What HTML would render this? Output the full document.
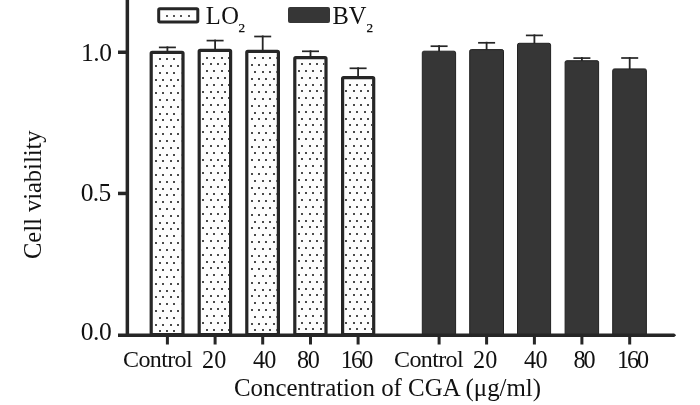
<!DOCTYPE html>
<html><head><meta charset="utf-8"><style>
html,body{margin:0;padding:0;background:#fff;}
body{width:700px;height:405px;overflow:hidden;}
svg{display:block;will-change:transform;}
text{font-family:"Liberation Serif",serif;fill:#111111;}
</style></head><body>
<svg width="700" height="405" viewBox="0 0 700 405">
<defs>

</defs>
<rect width="700" height="405" fill="#fff"/>

<rect x="166.50" y="46.40" width="1.8" height="5.30" fill="#262626"/>
<rect x="158.90" y="46.55" width="17" height="1.7" fill="#262626"/>
<rect x="214.20" y="39.60" width="1.8" height="10.10" fill="#262626"/>
<rect x="206.60" y="39.75" width="17" height="1.7" fill="#262626"/>
<rect x="261.80" y="35.50" width="1.8" height="15.30" fill="#262626"/>
<rect x="254.20" y="35.65" width="17" height="1.7" fill="#262626"/>
<rect x="309.60" y="50.30" width="1.8" height="6.80" fill="#262626"/>
<rect x="302.00" y="50.45" width="17" height="1.7" fill="#262626"/>
<rect x="357.20" y="67.30" width="1.8" height="9.80" fill="#262626"/>
<rect x="349.60" y="67.45" width="17" height="1.7" fill="#262626"/>
<rect x="438.20" y="45.20" width="1.8" height="6.50" fill="#262626"/>
<rect x="430.60" y="45.35" width="17" height="1.7" fill="#262626"/>
<rect x="485.70" y="41.80" width="1.8" height="8.30" fill="#262626"/>
<rect x="478.10" y="41.95" width="17" height="1.7" fill="#262626"/>
<rect x="533.50" y="34.40" width="1.8" height="9.40" fill="#262626"/>
<rect x="525.90" y="34.55" width="17" height="1.7" fill="#262626"/>
<rect x="581.00" y="57.10" width="1.8" height="4.10" fill="#262626"/>
<rect x="573.40" y="57.25" width="17" height="1.7" fill="#262626"/>
<rect x="628.80" y="57.00" width="1.8" height="12.40" fill="#262626"/>
<rect x="621.20" y="57.15" width="17" height="1.7" fill="#262626"/>
<rect x="151.20" y="52.30" width="31.80" height="282.20" rx="1" fill="#fdfdfd" stroke="#262626" stroke-width="3.2"/>
<g clip-path="url(#c0)" fill="#4a4a4a"><rect x="159" y="58" width="2" height="2"/><rect x="166" y="58" width="2" height="2"/><rect x="173" y="58" width="2" height="2"/><rect x="181" y="58" width="2" height="2"/><rect x="155" y="65" width="2" height="2"/><rect x="162" y="65" width="2" height="2"/><rect x="170" y="65" width="2" height="2"/><rect x="177" y="65" width="2" height="2"/><rect x="159" y="72" width="2" height="2"/><rect x="166" y="72" width="2" height="2"/><rect x="173" y="72" width="2" height="2"/><rect x="181" y="72" width="2" height="2"/><rect x="155" y="79" width="2" height="2"/><rect x="162" y="79" width="2" height="2"/><rect x="170" y="79" width="2" height="2"/><rect x="177" y="79" width="2" height="2"/><rect x="159" y="85" width="2" height="2"/><rect x="166" y="85" width="2" height="2"/><rect x="173" y="85" width="2" height="2"/><rect x="181" y="85" width="2" height="2"/><rect x="155" y="92" width="2" height="2"/><rect x="162" y="92" width="2" height="2"/><rect x="170" y="92" width="2" height="2"/><rect x="177" y="92" width="2" height="2"/><rect x="159" y="99" width="2" height="2"/><rect x="166" y="99" width="2" height="2"/><rect x="173" y="99" width="2" height="2"/><rect x="181" y="99" width="2" height="2"/><rect x="155" y="106" width="2" height="2"/><rect x="162" y="106" width="2" height="2"/><rect x="170" y="106" width="2" height="2"/><rect x="177" y="106" width="2" height="2"/><rect x="159" y="113" width="2" height="2"/><rect x="166" y="113" width="2" height="2"/><rect x="173" y="113" width="2" height="2"/><rect x="181" y="113" width="2" height="2"/><rect x="155" y="119" width="2" height="2"/><rect x="162" y="119" width="2" height="2"/><rect x="170" y="119" width="2" height="2"/><rect x="177" y="119" width="2" height="2"/><rect x="159" y="126" width="2" height="2"/><rect x="166" y="126" width="2" height="2"/><rect x="173" y="126" width="2" height="2"/><rect x="181" y="126" width="2" height="2"/><rect x="155" y="133" width="2" height="2"/><rect x="162" y="133" width="2" height="2"/><rect x="170" y="133" width="2" height="2"/><rect x="177" y="133" width="2" height="2"/><rect x="159" y="140" width="2" height="2"/><rect x="166" y="140" width="2" height="2"/><rect x="173" y="140" width="2" height="2"/><rect x="181" y="140" width="2" height="2"/><rect x="155" y="147" width="2" height="2"/><rect x="162" y="147" width="2" height="2"/><rect x="170" y="147" width="2" height="2"/><rect x="177" y="147" width="2" height="2"/><rect x="159" y="154" width="2" height="2"/><rect x="166" y="154" width="2" height="2"/><rect x="173" y="154" width="2" height="2"/><rect x="181" y="154" width="2" height="2"/><rect x="155" y="160" width="2" height="2"/><rect x="162" y="160" width="2" height="2"/><rect x="170" y="160" width="2" height="2"/><rect x="177" y="160" width="2" height="2"/><rect x="159" y="167" width="2" height="2"/><rect x="166" y="167" width="2" height="2"/><rect x="173" y="167" width="2" height="2"/><rect x="181" y="167" width="2" height="2"/><rect x="155" y="174" width="2" height="2"/><rect x="162" y="174" width="2" height="2"/><rect x="170" y="174" width="2" height="2"/><rect x="177" y="174" width="2" height="2"/><rect x="159" y="181" width="2" height="2"/><rect x="166" y="181" width="2" height="2"/><rect x="173" y="181" width="2" height="2"/><rect x="181" y="181" width="2" height="2"/><rect x="155" y="188" width="2" height="2"/><rect x="162" y="188" width="2" height="2"/><rect x="170" y="188" width="2" height="2"/><rect x="177" y="188" width="2" height="2"/><rect x="159" y="194" width="2" height="2"/><rect x="166" y="194" width="2" height="2"/><rect x="173" y="194" width="2" height="2"/><rect x="181" y="194" width="2" height="2"/><rect x="155" y="201" width="2" height="2"/><rect x="162" y="201" width="2" height="2"/><rect x="170" y="201" width="2" height="2"/><rect x="177" y="201" width="2" height="2"/><rect x="159" y="208" width="2" height="2"/><rect x="166" y="208" width="2" height="2"/><rect x="173" y="208" width="2" height="2"/><rect x="181" y="208" width="2" height="2"/><rect x="155" y="215" width="2" height="2"/><rect x="162" y="215" width="2" height="2"/><rect x="170" y="215" width="2" height="2"/><rect x="177" y="215" width="2" height="2"/><rect x="159" y="222" width="2" height="2"/><rect x="166" y="222" width="2" height="2"/><rect x="173" y="222" width="2" height="2"/><rect x="181" y="222" width="2" height="2"/><rect x="155" y="228" width="2" height="2"/><rect x="162" y="228" width="2" height="2"/><rect x="170" y="228" width="2" height="2"/><rect x="177" y="228" width="2" height="2"/><rect x="159" y="235" width="2" height="2"/><rect x="166" y="235" width="2" height="2"/><rect x="173" y="235" width="2" height="2"/><rect x="181" y="235" width="2" height="2"/><rect x="155" y="242" width="2" height="2"/><rect x="162" y="242" width="2" height="2"/><rect x="170" y="242" width="2" height="2"/><rect x="177" y="242" width="2" height="2"/><rect x="159" y="249" width="2" height="2"/><rect x="166" y="249" width="2" height="2"/><rect x="173" y="249" width="2" height="2"/><rect x="181" y="249" width="2" height="2"/><rect x="155" y="256" width="2" height="2"/><rect x="162" y="256" width="2" height="2"/><rect x="170" y="256" width="2" height="2"/><rect x="177" y="256" width="2" height="2"/><rect x="159" y="262" width="2" height="2"/><rect x="166" y="262" width="2" height="2"/><rect x="173" y="262" width="2" height="2"/><rect x="181" y="262" width="2" height="2"/><rect x="155" y="269" width="2" height="2"/><rect x="162" y="269" width="2" height="2"/><rect x="170" y="269" width="2" height="2"/><rect x="177" y="269" width="2" height="2"/><rect x="159" y="276" width="2" height="2"/><rect x="166" y="276" width="2" height="2"/><rect x="173" y="276" width="2" height="2"/><rect x="181" y="276" width="2" height="2"/><rect x="155" y="283" width="2" height="2"/><rect x="162" y="283" width="2" height="2"/><rect x="170" y="283" width="2" height="2"/><rect x="177" y="283" width="2" height="2"/><rect x="159" y="290" width="2" height="2"/><rect x="166" y="290" width="2" height="2"/><rect x="173" y="290" width="2" height="2"/><rect x="181" y="290" width="2" height="2"/><rect x="155" y="296" width="2" height="2"/><rect x="162" y="296" width="2" height="2"/><rect x="170" y="296" width="2" height="2"/><rect x="177" y="296" width="2" height="2"/><rect x="159" y="303" width="2" height="2"/><rect x="166" y="303" width="2" height="2"/><rect x="173" y="303" width="2" height="2"/><rect x="181" y="303" width="2" height="2"/><rect x="155" y="310" width="2" height="2"/><rect x="162" y="310" width="2" height="2"/><rect x="170" y="310" width="2" height="2"/><rect x="177" y="310" width="2" height="2"/><rect x="159" y="317" width="2" height="2"/><rect x="166" y="317" width="2" height="2"/><rect x="173" y="317" width="2" height="2"/><rect x="181" y="317" width="2" height="2"/><rect x="155" y="324" width="2" height="2"/><rect x="162" y="324" width="2" height="2"/><rect x="170" y="324" width="2" height="2"/><rect x="177" y="324" width="2" height="2"/><rect x="159" y="330" width="2" height="2"/><rect x="166" y="330" width="2" height="2"/><rect x="173" y="330" width="2" height="2"/><rect x="181" y="330" width="2" height="2"/></g>
<rect x="199.20" y="50.30" width="31.40" height="284.20" rx="1" fill="#fdfdfd" stroke="#262626" stroke-width="3.2"/>
<g clip-path="url(#c1)" fill="#4a4a4a"><rect x="206" y="57" width="2" height="2"/><rect x="213" y="57" width="2" height="2"/><rect x="221" y="57" width="2" height="2"/><rect x="228" y="57" width="2" height="2"/><rect x="202" y="63" width="2" height="2"/><rect x="210" y="63" width="2" height="2"/><rect x="217" y="63" width="2" height="2"/><rect x="224" y="63" width="2" height="2"/><rect x="206" y="70" width="2" height="2"/><rect x="213" y="70" width="2" height="2"/><rect x="221" y="70" width="2" height="2"/><rect x="228" y="70" width="2" height="2"/><rect x="202" y="77" width="2" height="2"/><rect x="210" y="77" width="2" height="2"/><rect x="217" y="77" width="2" height="2"/><rect x="224" y="77" width="2" height="2"/><rect x="206" y="84" width="2" height="2"/><rect x="213" y="84" width="2" height="2"/><rect x="221" y="84" width="2" height="2"/><rect x="228" y="84" width="2" height="2"/><rect x="202" y="91" width="2" height="2"/><rect x="210" y="91" width="2" height="2"/><rect x="217" y="91" width="2" height="2"/><rect x="224" y="91" width="2" height="2"/><rect x="206" y="97" width="2" height="2"/><rect x="213" y="97" width="2" height="2"/><rect x="221" y="97" width="2" height="2"/><rect x="228" y="97" width="2" height="2"/><rect x="202" y="104" width="2" height="2"/><rect x="210" y="104" width="2" height="2"/><rect x="217" y="104" width="2" height="2"/><rect x="224" y="104" width="2" height="2"/><rect x="206" y="111" width="2" height="2"/><rect x="213" y="111" width="2" height="2"/><rect x="221" y="111" width="2" height="2"/><rect x="228" y="111" width="2" height="2"/><rect x="202" y="118" width="2" height="2"/><rect x="210" y="118" width="2" height="2"/><rect x="217" y="118" width="2" height="2"/><rect x="224" y="118" width="2" height="2"/><rect x="206" y="125" width="2" height="2"/><rect x="213" y="125" width="2" height="2"/><rect x="221" y="125" width="2" height="2"/><rect x="228" y="125" width="2" height="2"/><rect x="202" y="131" width="2" height="2"/><rect x="210" y="131" width="2" height="2"/><rect x="217" y="131" width="2" height="2"/><rect x="224" y="131" width="2" height="2"/><rect x="206" y="138" width="2" height="2"/><rect x="213" y="138" width="2" height="2"/><rect x="221" y="138" width="2" height="2"/><rect x="228" y="138" width="2" height="2"/><rect x="202" y="145" width="2" height="2"/><rect x="210" y="145" width="2" height="2"/><rect x="217" y="145" width="2" height="2"/><rect x="224" y="145" width="2" height="2"/><rect x="206" y="152" width="2" height="2"/><rect x="213" y="152" width="2" height="2"/><rect x="221" y="152" width="2" height="2"/><rect x="228" y="152" width="2" height="2"/><rect x="202" y="159" width="2" height="2"/><rect x="210" y="159" width="2" height="2"/><rect x="217" y="159" width="2" height="2"/><rect x="224" y="159" width="2" height="2"/><rect x="206" y="165" width="2" height="2"/><rect x="213" y="165" width="2" height="2"/><rect x="221" y="165" width="2" height="2"/><rect x="228" y="165" width="2" height="2"/><rect x="202" y="172" width="2" height="2"/><rect x="210" y="172" width="2" height="2"/><rect x="217" y="172" width="2" height="2"/><rect x="224" y="172" width="2" height="2"/><rect x="206" y="179" width="2" height="2"/><rect x="213" y="179" width="2" height="2"/><rect x="221" y="179" width="2" height="2"/><rect x="228" y="179" width="2" height="2"/><rect x="202" y="186" width="2" height="2"/><rect x="210" y="186" width="2" height="2"/><rect x="217" y="186" width="2" height="2"/><rect x="224" y="186" width="2" height="2"/><rect x="206" y="193" width="2" height="2"/><rect x="213" y="193" width="2" height="2"/><rect x="221" y="193" width="2" height="2"/><rect x="228" y="193" width="2" height="2"/><rect x="202" y="199" width="2" height="2"/><rect x="210" y="199" width="2" height="2"/><rect x="217" y="199" width="2" height="2"/><rect x="224" y="199" width="2" height="2"/><rect x="206" y="206" width="2" height="2"/><rect x="213" y="206" width="2" height="2"/><rect x="221" y="206" width="2" height="2"/><rect x="228" y="206" width="2" height="2"/><rect x="202" y="213" width="2" height="2"/><rect x="210" y="213" width="2" height="2"/><rect x="217" y="213" width="2" height="2"/><rect x="224" y="213" width="2" height="2"/><rect x="206" y="220" width="2" height="2"/><rect x="213" y="220" width="2" height="2"/><rect x="221" y="220" width="2" height="2"/><rect x="228" y="220" width="2" height="2"/><rect x="202" y="227" width="2" height="2"/><rect x="210" y="227" width="2" height="2"/><rect x="217" y="227" width="2" height="2"/><rect x="224" y="227" width="2" height="2"/><rect x="206" y="233" width="2" height="2"/><rect x="213" y="233" width="2" height="2"/><rect x="221" y="233" width="2" height="2"/><rect x="228" y="233" width="2" height="2"/><rect x="202" y="240" width="2" height="2"/><rect x="210" y="240" width="2" height="2"/><rect x="217" y="240" width="2" height="2"/><rect x="224" y="240" width="2" height="2"/><rect x="206" y="247" width="2" height="2"/><rect x="213" y="247" width="2" height="2"/><rect x="221" y="247" width="2" height="2"/><rect x="228" y="247" width="2" height="2"/><rect x="202" y="254" width="2" height="2"/><rect x="210" y="254" width="2" height="2"/><rect x="217" y="254" width="2" height="2"/><rect x="224" y="254" width="2" height="2"/><rect x="206" y="261" width="2" height="2"/><rect x="213" y="261" width="2" height="2"/><rect x="221" y="261" width="2" height="2"/><rect x="228" y="261" width="2" height="2"/><rect x="202" y="267" width="2" height="2"/><rect x="210" y="267" width="2" height="2"/><rect x="217" y="267" width="2" height="2"/><rect x="224" y="267" width="2" height="2"/><rect x="206" y="274" width="2" height="2"/><rect x="213" y="274" width="2" height="2"/><rect x="221" y="274" width="2" height="2"/><rect x="228" y="274" width="2" height="2"/><rect x="202" y="281" width="2" height="2"/><rect x="210" y="281" width="2" height="2"/><rect x="217" y="281" width="2" height="2"/><rect x="224" y="281" width="2" height="2"/><rect x="206" y="288" width="2" height="2"/><rect x="213" y="288" width="2" height="2"/><rect x="221" y="288" width="2" height="2"/><rect x="228" y="288" width="2" height="2"/><rect x="202" y="295" width="2" height="2"/><rect x="210" y="295" width="2" height="2"/><rect x="217" y="295" width="2" height="2"/><rect x="224" y="295" width="2" height="2"/><rect x="206" y="301" width="2" height="2"/><rect x="213" y="301" width="2" height="2"/><rect x="221" y="301" width="2" height="2"/><rect x="228" y="301" width="2" height="2"/><rect x="202" y="308" width="2" height="2"/><rect x="210" y="308" width="2" height="2"/><rect x="217" y="308" width="2" height="2"/><rect x="224" y="308" width="2" height="2"/><rect x="206" y="315" width="2" height="2"/><rect x="213" y="315" width="2" height="2"/><rect x="221" y="315" width="2" height="2"/><rect x="228" y="315" width="2" height="2"/><rect x="202" y="322" width="2" height="2"/><rect x="210" y="322" width="2" height="2"/><rect x="217" y="322" width="2" height="2"/><rect x="224" y="322" width="2" height="2"/><rect x="206" y="329" width="2" height="2"/><rect x="213" y="329" width="2" height="2"/><rect x="221" y="329" width="2" height="2"/><rect x="228" y="329" width="2" height="2"/></g>
<rect x="246.80" y="51.40" width="31.60" height="283.10" rx="1" fill="#fdfdfd" stroke="#262626" stroke-width="3.2"/>
<g clip-path="url(#c2)" fill="#4a4a4a"><rect x="254" y="57" width="2" height="2"/><rect x="262" y="57" width="2" height="2"/><rect x="269" y="57" width="2" height="2"/><rect x="276" y="57" width="2" height="2"/><rect x="251" y="64" width="2" height="2"/><rect x="258" y="64" width="2" height="2"/><rect x="265" y="64" width="2" height="2"/><rect x="273" y="64" width="2" height="2"/><rect x="254" y="71" width="2" height="2"/><rect x="262" y="71" width="2" height="2"/><rect x="269" y="71" width="2" height="2"/><rect x="276" y="71" width="2" height="2"/><rect x="251" y="78" width="2" height="2"/><rect x="258" y="78" width="2" height="2"/><rect x="265" y="78" width="2" height="2"/><rect x="273" y="78" width="2" height="2"/><rect x="254" y="84" width="2" height="2"/><rect x="262" y="84" width="2" height="2"/><rect x="269" y="84" width="2" height="2"/><rect x="276" y="84" width="2" height="2"/><rect x="251" y="91" width="2" height="2"/><rect x="258" y="91" width="2" height="2"/><rect x="265" y="91" width="2" height="2"/><rect x="273" y="91" width="2" height="2"/><rect x="254" y="98" width="2" height="2"/><rect x="262" y="98" width="2" height="2"/><rect x="269" y="98" width="2" height="2"/><rect x="276" y="98" width="2" height="2"/><rect x="251" y="105" width="2" height="2"/><rect x="258" y="105" width="2" height="2"/><rect x="265" y="105" width="2" height="2"/><rect x="273" y="105" width="2" height="2"/><rect x="254" y="112" width="2" height="2"/><rect x="262" y="112" width="2" height="2"/><rect x="269" y="112" width="2" height="2"/><rect x="276" y="112" width="2" height="2"/><rect x="251" y="118" width="2" height="2"/><rect x="258" y="118" width="2" height="2"/><rect x="265" y="118" width="2" height="2"/><rect x="273" y="118" width="2" height="2"/><rect x="254" y="125" width="2" height="2"/><rect x="262" y="125" width="2" height="2"/><rect x="269" y="125" width="2" height="2"/><rect x="276" y="125" width="2" height="2"/><rect x="251" y="132" width="2" height="2"/><rect x="258" y="132" width="2" height="2"/><rect x="265" y="132" width="2" height="2"/><rect x="273" y="132" width="2" height="2"/><rect x="254" y="139" width="2" height="2"/><rect x="262" y="139" width="2" height="2"/><rect x="269" y="139" width="2" height="2"/><rect x="276" y="139" width="2" height="2"/><rect x="251" y="146" width="2" height="2"/><rect x="258" y="146" width="2" height="2"/><rect x="265" y="146" width="2" height="2"/><rect x="273" y="146" width="2" height="2"/><rect x="254" y="152" width="2" height="2"/><rect x="262" y="152" width="2" height="2"/><rect x="269" y="152" width="2" height="2"/><rect x="276" y="152" width="2" height="2"/><rect x="251" y="159" width="2" height="2"/><rect x="258" y="159" width="2" height="2"/><rect x="265" y="159" width="2" height="2"/><rect x="273" y="159" width="2" height="2"/><rect x="254" y="166" width="2" height="2"/><rect x="262" y="166" width="2" height="2"/><rect x="269" y="166" width="2" height="2"/><rect x="276" y="166" width="2" height="2"/><rect x="251" y="173" width="2" height="2"/><rect x="258" y="173" width="2" height="2"/><rect x="265" y="173" width="2" height="2"/><rect x="273" y="173" width="2" height="2"/><rect x="254" y="180" width="2" height="2"/><rect x="262" y="180" width="2" height="2"/><rect x="269" y="180" width="2" height="2"/><rect x="276" y="180" width="2" height="2"/><rect x="251" y="187" width="2" height="2"/><rect x="258" y="187" width="2" height="2"/><rect x="265" y="187" width="2" height="2"/><rect x="273" y="187" width="2" height="2"/><rect x="254" y="193" width="2" height="2"/><rect x="262" y="193" width="2" height="2"/><rect x="269" y="193" width="2" height="2"/><rect x="276" y="193" width="2" height="2"/><rect x="251" y="200" width="2" height="2"/><rect x="258" y="200" width="2" height="2"/><rect x="265" y="200" width="2" height="2"/><rect x="273" y="200" width="2" height="2"/><rect x="254" y="207" width="2" height="2"/><rect x="262" y="207" width="2" height="2"/><rect x="269" y="207" width="2" height="2"/><rect x="276" y="207" width="2" height="2"/><rect x="251" y="214" width="2" height="2"/><rect x="258" y="214" width="2" height="2"/><rect x="265" y="214" width="2" height="2"/><rect x="273" y="214" width="2" height="2"/><rect x="254" y="221" width="2" height="2"/><rect x="262" y="221" width="2" height="2"/><rect x="269" y="221" width="2" height="2"/><rect x="276" y="221" width="2" height="2"/><rect x="251" y="227" width="2" height="2"/><rect x="258" y="227" width="2" height="2"/><rect x="265" y="227" width="2" height="2"/><rect x="273" y="227" width="2" height="2"/><rect x="254" y="234" width="2" height="2"/><rect x="262" y="234" width="2" height="2"/><rect x="269" y="234" width="2" height="2"/><rect x="276" y="234" width="2" height="2"/><rect x="251" y="241" width="2" height="2"/><rect x="258" y="241" width="2" height="2"/><rect x="265" y="241" width="2" height="2"/><rect x="273" y="241" width="2" height="2"/><rect x="254" y="248" width="2" height="2"/><rect x="262" y="248" width="2" height="2"/><rect x="269" y="248" width="2" height="2"/><rect x="276" y="248" width="2" height="2"/><rect x="251" y="255" width="2" height="2"/><rect x="258" y="255" width="2" height="2"/><rect x="265" y="255" width="2" height="2"/><rect x="273" y="255" width="2" height="2"/><rect x="254" y="261" width="2" height="2"/><rect x="262" y="261" width="2" height="2"/><rect x="269" y="261" width="2" height="2"/><rect x="276" y="261" width="2" height="2"/><rect x="251" y="268" width="2" height="2"/><rect x="258" y="268" width="2" height="2"/><rect x="265" y="268" width="2" height="2"/><rect x="273" y="268" width="2" height="2"/><rect x="254" y="275" width="2" height="2"/><rect x="262" y="275" width="2" height="2"/><rect x="269" y="275" width="2" height="2"/><rect x="276" y="275" width="2" height="2"/><rect x="251" y="282" width="2" height="2"/><rect x="258" y="282" width="2" height="2"/><rect x="265" y="282" width="2" height="2"/><rect x="273" y="282" width="2" height="2"/><rect x="254" y="289" width="2" height="2"/><rect x="262" y="289" width="2" height="2"/><rect x="269" y="289" width="2" height="2"/><rect x="276" y="289" width="2" height="2"/><rect x="251" y="295" width="2" height="2"/><rect x="258" y="295" width="2" height="2"/><rect x="265" y="295" width="2" height="2"/><rect x="273" y="295" width="2" height="2"/><rect x="254" y="302" width="2" height="2"/><rect x="262" y="302" width="2" height="2"/><rect x="269" y="302" width="2" height="2"/><rect x="276" y="302" width="2" height="2"/><rect x="251" y="309" width="2" height="2"/><rect x="258" y="309" width="2" height="2"/><rect x="265" y="309" width="2" height="2"/><rect x="273" y="309" width="2" height="2"/><rect x="254" y="316" width="2" height="2"/><rect x="262" y="316" width="2" height="2"/><rect x="269" y="316" width="2" height="2"/><rect x="276" y="316" width="2" height="2"/><rect x="251" y="323" width="2" height="2"/><rect x="258" y="323" width="2" height="2"/><rect x="265" y="323" width="2" height="2"/><rect x="273" y="323" width="2" height="2"/><rect x="254" y="329" width="2" height="2"/><rect x="262" y="329" width="2" height="2"/><rect x="269" y="329" width="2" height="2"/><rect x="276" y="329" width="2" height="2"/></g>
<rect x="294.80" y="57.70" width="31.20" height="276.80" rx="1" fill="#fdfdfd" stroke="#262626" stroke-width="3.2"/>
<g clip-path="url(#c3)" fill="#4a4a4a"><rect x="301" y="63" width="2" height="2"/><rect x="309" y="63" width="2" height="2"/><rect x="316" y="63" width="2" height="2"/><rect x="323" y="63" width="2" height="2"/><rect x="298" y="70" width="2" height="2"/><rect x="305" y="70" width="2" height="2"/><rect x="312" y="70" width="2" height="2"/><rect x="320" y="70" width="2" height="2"/><rect x="301" y="77" width="2" height="2"/><rect x="309" y="77" width="2" height="2"/><rect x="316" y="77" width="2" height="2"/><rect x="323" y="77" width="2" height="2"/><rect x="298" y="84" width="2" height="2"/><rect x="305" y="84" width="2" height="2"/><rect x="312" y="84" width="2" height="2"/><rect x="320" y="84" width="2" height="2"/><rect x="301" y="90" width="2" height="2"/><rect x="309" y="90" width="2" height="2"/><rect x="316" y="90" width="2" height="2"/><rect x="323" y="90" width="2" height="2"/><rect x="298" y="97" width="2" height="2"/><rect x="305" y="97" width="2" height="2"/><rect x="312" y="97" width="2" height="2"/><rect x="320" y="97" width="2" height="2"/><rect x="301" y="104" width="2" height="2"/><rect x="309" y="104" width="2" height="2"/><rect x="316" y="104" width="2" height="2"/><rect x="323" y="104" width="2" height="2"/><rect x="298" y="111" width="2" height="2"/><rect x="305" y="111" width="2" height="2"/><rect x="312" y="111" width="2" height="2"/><rect x="320" y="111" width="2" height="2"/><rect x="301" y="118" width="2" height="2"/><rect x="309" y="118" width="2" height="2"/><rect x="316" y="118" width="2" height="2"/><rect x="323" y="118" width="2" height="2"/><rect x="298" y="124" width="2" height="2"/><rect x="305" y="124" width="2" height="2"/><rect x="312" y="124" width="2" height="2"/><rect x="320" y="124" width="2" height="2"/><rect x="301" y="131" width="2" height="2"/><rect x="309" y="131" width="2" height="2"/><rect x="316" y="131" width="2" height="2"/><rect x="323" y="131" width="2" height="2"/><rect x="298" y="138" width="2" height="2"/><rect x="305" y="138" width="2" height="2"/><rect x="312" y="138" width="2" height="2"/><rect x="320" y="138" width="2" height="2"/><rect x="301" y="145" width="2" height="2"/><rect x="309" y="145" width="2" height="2"/><rect x="316" y="145" width="2" height="2"/><rect x="323" y="145" width="2" height="2"/><rect x="298" y="152" width="2" height="2"/><rect x="305" y="152" width="2" height="2"/><rect x="312" y="152" width="2" height="2"/><rect x="320" y="152" width="2" height="2"/><rect x="301" y="158" width="2" height="2"/><rect x="309" y="158" width="2" height="2"/><rect x="316" y="158" width="2" height="2"/><rect x="323" y="158" width="2" height="2"/><rect x="298" y="165" width="2" height="2"/><rect x="305" y="165" width="2" height="2"/><rect x="312" y="165" width="2" height="2"/><rect x="320" y="165" width="2" height="2"/><rect x="301" y="172" width="2" height="2"/><rect x="309" y="172" width="2" height="2"/><rect x="316" y="172" width="2" height="2"/><rect x="323" y="172" width="2" height="2"/><rect x="298" y="179" width="2" height="2"/><rect x="305" y="179" width="2" height="2"/><rect x="312" y="179" width="2" height="2"/><rect x="320" y="179" width="2" height="2"/><rect x="301" y="186" width="2" height="2"/><rect x="309" y="186" width="2" height="2"/><rect x="316" y="186" width="2" height="2"/><rect x="323" y="186" width="2" height="2"/><rect x="298" y="192" width="2" height="2"/><rect x="305" y="192" width="2" height="2"/><rect x="312" y="192" width="2" height="2"/><rect x="320" y="192" width="2" height="2"/><rect x="301" y="199" width="2" height="2"/><rect x="309" y="199" width="2" height="2"/><rect x="316" y="199" width="2" height="2"/><rect x="323" y="199" width="2" height="2"/><rect x="298" y="206" width="2" height="2"/><rect x="305" y="206" width="2" height="2"/><rect x="312" y="206" width="2" height="2"/><rect x="320" y="206" width="2" height="2"/><rect x="301" y="213" width="2" height="2"/><rect x="309" y="213" width="2" height="2"/><rect x="316" y="213" width="2" height="2"/><rect x="323" y="213" width="2" height="2"/><rect x="298" y="220" width="2" height="2"/><rect x="305" y="220" width="2" height="2"/><rect x="312" y="220" width="2" height="2"/><rect x="320" y="220" width="2" height="2"/><rect x="301" y="226" width="2" height="2"/><rect x="309" y="226" width="2" height="2"/><rect x="316" y="226" width="2" height="2"/><rect x="323" y="226" width="2" height="2"/><rect x="298" y="233" width="2" height="2"/><rect x="305" y="233" width="2" height="2"/><rect x="312" y="233" width="2" height="2"/><rect x="320" y="233" width="2" height="2"/><rect x="301" y="240" width="2" height="2"/><rect x="309" y="240" width="2" height="2"/><rect x="316" y="240" width="2" height="2"/><rect x="323" y="240" width="2" height="2"/><rect x="298" y="247" width="2" height="2"/><rect x="305" y="247" width="2" height="2"/><rect x="312" y="247" width="2" height="2"/><rect x="320" y="247" width="2" height="2"/><rect x="301" y="254" width="2" height="2"/><rect x="309" y="254" width="2" height="2"/><rect x="316" y="254" width="2" height="2"/><rect x="323" y="254" width="2" height="2"/><rect x="298" y="260" width="2" height="2"/><rect x="305" y="260" width="2" height="2"/><rect x="312" y="260" width="2" height="2"/><rect x="320" y="260" width="2" height="2"/><rect x="301" y="267" width="2" height="2"/><rect x="309" y="267" width="2" height="2"/><rect x="316" y="267" width="2" height="2"/><rect x="323" y="267" width="2" height="2"/><rect x="298" y="274" width="2" height="2"/><rect x="305" y="274" width="2" height="2"/><rect x="312" y="274" width="2" height="2"/><rect x="320" y="274" width="2" height="2"/><rect x="301" y="281" width="2" height="2"/><rect x="309" y="281" width="2" height="2"/><rect x="316" y="281" width="2" height="2"/><rect x="323" y="281" width="2" height="2"/><rect x="298" y="288" width="2" height="2"/><rect x="305" y="288" width="2" height="2"/><rect x="312" y="288" width="2" height="2"/><rect x="320" y="288" width="2" height="2"/><rect x="301" y="294" width="2" height="2"/><rect x="309" y="294" width="2" height="2"/><rect x="316" y="294" width="2" height="2"/><rect x="323" y="294" width="2" height="2"/><rect x="298" y="301" width="2" height="2"/><rect x="305" y="301" width="2" height="2"/><rect x="312" y="301" width="2" height="2"/><rect x="320" y="301" width="2" height="2"/><rect x="301" y="308" width="2" height="2"/><rect x="309" y="308" width="2" height="2"/><rect x="316" y="308" width="2" height="2"/><rect x="323" y="308" width="2" height="2"/><rect x="298" y="315" width="2" height="2"/><rect x="305" y="315" width="2" height="2"/><rect x="312" y="315" width="2" height="2"/><rect x="320" y="315" width="2" height="2"/><rect x="301" y="322" width="2" height="2"/><rect x="309" y="322" width="2" height="2"/><rect x="316" y="322" width="2" height="2"/><rect x="323" y="322" width="2" height="2"/><rect x="298" y="328" width="2" height="2"/><rect x="305" y="328" width="2" height="2"/><rect x="312" y="328" width="2" height="2"/><rect x="320" y="328" width="2" height="2"/></g>
<rect x="342.60" y="77.70" width="31.10" height="256.80" rx="1" fill="#fdfdfd" stroke="#262626" stroke-width="3.2"/>
<g clip-path="url(#c4)" fill="#4a4a4a"><rect x="349" y="84" width="2" height="2"/><rect x="356" y="84" width="2" height="2"/><rect x="364" y="84" width="2" height="2"/><rect x="371" y="84" width="2" height="2"/><rect x="345" y="90" width="2" height="2"/><rect x="353" y="90" width="2" height="2"/><rect x="360" y="90" width="2" height="2"/><rect x="367" y="90" width="2" height="2"/><rect x="349" y="97" width="2" height="2"/><rect x="356" y="97" width="2" height="2"/><rect x="364" y="97" width="2" height="2"/><rect x="371" y="97" width="2" height="2"/><rect x="345" y="104" width="2" height="2"/><rect x="353" y="104" width="2" height="2"/><rect x="360" y="104" width="2" height="2"/><rect x="367" y="104" width="2" height="2"/><rect x="349" y="111" width="2" height="2"/><rect x="356" y="111" width="2" height="2"/><rect x="364" y="111" width="2" height="2"/><rect x="371" y="111" width="2" height="2"/><rect x="345" y="118" width="2" height="2"/><rect x="353" y="118" width="2" height="2"/><rect x="360" y="118" width="2" height="2"/><rect x="367" y="118" width="2" height="2"/><rect x="349" y="124" width="2" height="2"/><rect x="356" y="124" width="2" height="2"/><rect x="364" y="124" width="2" height="2"/><rect x="371" y="124" width="2" height="2"/><rect x="345" y="131" width="2" height="2"/><rect x="353" y="131" width="2" height="2"/><rect x="360" y="131" width="2" height="2"/><rect x="367" y="131" width="2" height="2"/><rect x="349" y="138" width="2" height="2"/><rect x="356" y="138" width="2" height="2"/><rect x="364" y="138" width="2" height="2"/><rect x="371" y="138" width="2" height="2"/><rect x="345" y="145" width="2" height="2"/><rect x="353" y="145" width="2" height="2"/><rect x="360" y="145" width="2" height="2"/><rect x="367" y="145" width="2" height="2"/><rect x="349" y="152" width="2" height="2"/><rect x="356" y="152" width="2" height="2"/><rect x="364" y="152" width="2" height="2"/><rect x="371" y="152" width="2" height="2"/><rect x="345" y="158" width="2" height="2"/><rect x="353" y="158" width="2" height="2"/><rect x="360" y="158" width="2" height="2"/><rect x="367" y="158" width="2" height="2"/><rect x="349" y="165" width="2" height="2"/><rect x="356" y="165" width="2" height="2"/><rect x="364" y="165" width="2" height="2"/><rect x="371" y="165" width="2" height="2"/><rect x="345" y="172" width="2" height="2"/><rect x="353" y="172" width="2" height="2"/><rect x="360" y="172" width="2" height="2"/><rect x="367" y="172" width="2" height="2"/><rect x="349" y="179" width="2" height="2"/><rect x="356" y="179" width="2" height="2"/><rect x="364" y="179" width="2" height="2"/><rect x="371" y="179" width="2" height="2"/><rect x="345" y="186" width="2" height="2"/><rect x="353" y="186" width="2" height="2"/><rect x="360" y="186" width="2" height="2"/><rect x="367" y="186" width="2" height="2"/><rect x="349" y="192" width="2" height="2"/><rect x="356" y="192" width="2" height="2"/><rect x="364" y="192" width="2" height="2"/><rect x="371" y="192" width="2" height="2"/><rect x="345" y="199" width="2" height="2"/><rect x="353" y="199" width="2" height="2"/><rect x="360" y="199" width="2" height="2"/><rect x="367" y="199" width="2" height="2"/><rect x="349" y="206" width="2" height="2"/><rect x="356" y="206" width="2" height="2"/><rect x="364" y="206" width="2" height="2"/><rect x="371" y="206" width="2" height="2"/><rect x="345" y="213" width="2" height="2"/><rect x="353" y="213" width="2" height="2"/><rect x="360" y="213" width="2" height="2"/><rect x="367" y="213" width="2" height="2"/><rect x="349" y="220" width="2" height="2"/><rect x="356" y="220" width="2" height="2"/><rect x="364" y="220" width="2" height="2"/><rect x="371" y="220" width="2" height="2"/><rect x="345" y="226" width="2" height="2"/><rect x="353" y="226" width="2" height="2"/><rect x="360" y="226" width="2" height="2"/><rect x="367" y="226" width="2" height="2"/><rect x="349" y="233" width="2" height="2"/><rect x="356" y="233" width="2" height="2"/><rect x="364" y="233" width="2" height="2"/><rect x="371" y="233" width="2" height="2"/><rect x="345" y="240" width="2" height="2"/><rect x="353" y="240" width="2" height="2"/><rect x="360" y="240" width="2" height="2"/><rect x="367" y="240" width="2" height="2"/><rect x="349" y="247" width="2" height="2"/><rect x="356" y="247" width="2" height="2"/><rect x="364" y="247" width="2" height="2"/><rect x="371" y="247" width="2" height="2"/><rect x="345" y="254" width="2" height="2"/><rect x="353" y="254" width="2" height="2"/><rect x="360" y="254" width="2" height="2"/><rect x="367" y="254" width="2" height="2"/><rect x="349" y="260" width="2" height="2"/><rect x="356" y="260" width="2" height="2"/><rect x="364" y="260" width="2" height="2"/><rect x="371" y="260" width="2" height="2"/><rect x="345" y="267" width="2" height="2"/><rect x="353" y="267" width="2" height="2"/><rect x="360" y="267" width="2" height="2"/><rect x="367" y="267" width="2" height="2"/><rect x="349" y="274" width="2" height="2"/><rect x="356" y="274" width="2" height="2"/><rect x="364" y="274" width="2" height="2"/><rect x="371" y="274" width="2" height="2"/><rect x="345" y="281" width="2" height="2"/><rect x="353" y="281" width="2" height="2"/><rect x="360" y="281" width="2" height="2"/><rect x="367" y="281" width="2" height="2"/><rect x="349" y="288" width="2" height="2"/><rect x="356" y="288" width="2" height="2"/><rect x="364" y="288" width="2" height="2"/><rect x="371" y="288" width="2" height="2"/><rect x="345" y="294" width="2" height="2"/><rect x="353" y="294" width="2" height="2"/><rect x="360" y="294" width="2" height="2"/><rect x="367" y="294" width="2" height="2"/><rect x="349" y="301" width="2" height="2"/><rect x="356" y="301" width="2" height="2"/><rect x="364" y="301" width="2" height="2"/><rect x="371" y="301" width="2" height="2"/><rect x="345" y="308" width="2" height="2"/><rect x="353" y="308" width="2" height="2"/><rect x="360" y="308" width="2" height="2"/><rect x="367" y="308" width="2" height="2"/><rect x="349" y="315" width="2" height="2"/><rect x="356" y="315" width="2" height="2"/><rect x="364" y="315" width="2" height="2"/><rect x="371" y="315" width="2" height="2"/><rect x="345" y="322" width="2" height="2"/><rect x="353" y="322" width="2" height="2"/><rect x="360" y="322" width="2" height="2"/><rect x="367" y="322" width="2" height="2"/><rect x="349" y="328" width="2" height="2"/><rect x="356" y="328" width="2" height="2"/><rect x="364" y="328" width="2" height="2"/><rect x="371" y="328" width="2" height="2"/></g>
<rect x="422.30" y="51.20" width="33.30" height="285.30" rx="1.6" fill="#363636" stroke="#222" stroke-width="1"/>
<rect x="469.70" y="49.60" width="33.80" height="286.90" rx="1.6" fill="#363636" stroke="#222" stroke-width="1"/>
<rect x="517.50" y="43.30" width="33.10" height="293.20" rx="1.6" fill="#363636" stroke="#222" stroke-width="1"/>
<rect x="565.10" y="60.70" width="33.50" height="275.80" rx="1.6" fill="#363636" stroke="#222" stroke-width="1"/>
<rect x="612.70" y="68.90" width="33.70" height="267.60" rx="1.6" fill="#363636" stroke="#222" stroke-width="1"/>
<rect x="125.6" y="0" width="3.5" height="337" fill="#262626"/>
<path d="M118 333.6 H674.2 L676.2 335.3 L674.2 337 H118 Z" fill="#262626"/>
<rect x="118" y="50.50" width="8" height="3.5" fill="#262626"/>
<rect x="118" y="191.70" width="8" height="3.5" fill="#262626"/>
<rect x="165.90" y="336" width="3.0" height="8.5" fill="#262626"/>
<rect x="213.60" y="336" width="3.0" height="8.5" fill="#262626"/>
<rect x="261.20" y="336" width="3.0" height="8.5" fill="#262626"/>
<rect x="309.00" y="336" width="3.0" height="8.5" fill="#262626"/>
<rect x="356.60" y="336" width="3.0" height="8.5" fill="#262626"/>
<rect x="437.60" y="336" width="3.0" height="8.5" fill="#262626"/>
<rect x="485.10" y="336" width="3.0" height="8.5" fill="#262626"/>
<rect x="532.90" y="336" width="3.0" height="8.5" fill="#262626"/>
<rect x="580.40" y="336" width="3.0" height="8.5" fill="#262626"/>
<rect x="628.20" y="336" width="3.0" height="8.5" fill="#262626"/>
<text x="80.98" y="61" font-size="25.5" letter-spacing="-0.39">1.0</text>
<text x="80.7" y="200.8" font-size="25.5" letter-spacing="-0.66">0.5</text>
<text x="80.7" y="339.8" font-size="25.5" letter-spacing="-0.35">0.0</text>
<text x="123.05" y="367.4" font-size="24" letter-spacing="-0.63">Control</text>
<text x="201.92" y="367.6" font-size="24.2" letter-spacing="0.13">20</text>
<text x="252.92" y="367.6" font-size="24.2" letter-spacing="-0.87">40</text>
<text x="296.89" y="367.6" font-size="24.2" letter-spacing="-1.14">80</text>
<text x="340.86" y="367.6" font-size="24.2" letter-spacing="-1.93">160</text>
<text x="394.05" y="367.4" font-size="24" letter-spacing="-0.63">Control</text>
<text x="472.92" y="367.6" font-size="24.2" letter-spacing="0.13">20</text>
<text x="523.92" y="367.6" font-size="24.2" letter-spacing="-0.47">40</text>
<text x="573.59" y="367.6" font-size="24.2" letter-spacing="-2.14">80</text>
<text x="617.06" y="367.6" font-size="24.2" letter-spacing="-2.13">160</text>
<text transform="translate(40.5,259.05) rotate(-90)" font-size="24.5">Cell viability</text>
<text x="233.93" y="395.5" font-size="24.9">Concentration of CGA (μg/ml)</text>
<rect x="158.7" y="8.7" width="39.1" height="13.3" rx="1.2" fill="#fdfdfd" stroke="#262626" stroke-width="3"/>
<g fill="#555"><rect x="166" y="15" width="2" height="2"/><rect x="173" y="15" width="2" height="2"/><rect x="180" y="15" width="2" height="2"/><rect x="188" y="15" width="2" height="2"/></g>
<text x="205.72" y="23.7" font-size="24.5" letter-spacing="0.64">LO</text>
<text x="238.4" y="31.8" font-size="13.2" stroke="#111" stroke-width="0.25">2</text>
<rect x="288" y="7.1" width="42" height="16" rx="2" fill="#363636"/>
<text x="332.62" y="23.5" font-size="24.5" letter-spacing="-0.14">BV</text>
<text x="366.4" y="31.8" font-size="13.2" stroke="#111" stroke-width="0.25">2</text>
<defs><clipPath id="c0"><rect x="152.80" y="53.90" width="28.60" height="280.10"/></clipPath><clipPath id="c1"><rect x="200.80" y="51.90" width="28.20" height="282.10"/></clipPath><clipPath id="c2"><rect x="248.40" y="53.00" width="28.40" height="281.00"/></clipPath><clipPath id="c3"><rect x="296.40" y="59.30" width="28.00" height="274.70"/></clipPath><clipPath id="c4"><rect x="344.20" y="79.30" width="27.90" height="254.70"/></clipPath></defs>
</svg>
</body></html>
